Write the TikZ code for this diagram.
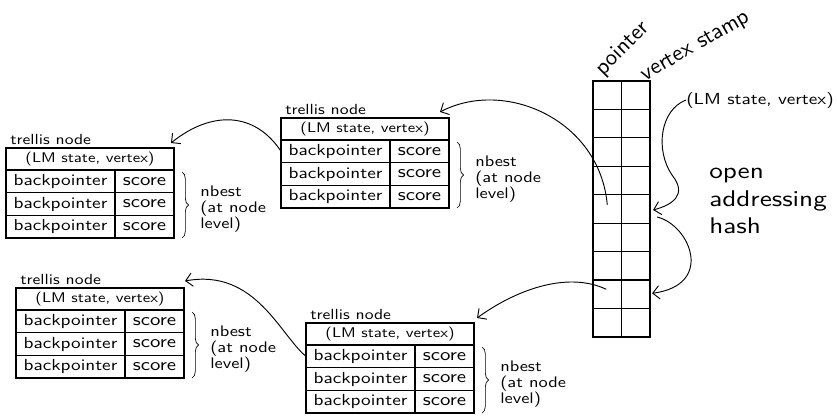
\documentclass[tikz,border=0pt]{standalone}
\usepackage{fontspec}
\newfontfamily\hand{lmsans10-regular.otf}[FakeStretch=1.2]
\newfontfamily\handplain{lmsans10-regular.otf}
\usetikzlibrary{arrows.meta,decorations.pathreplacing,calc}

% one trellis node: name, x and y of its top-left corner (px, y down)
\newcommand\trellisnode[3]{%
  \node[title, anchor=south west] (#1-t) at (#2+4,#3-3) {trellis node};
  \node[hdr] (#1-h) at (#2,#3) {(LM state, vertex)};
  \node[bpcell] (#1-b1) at (#1-h.south west) {backpointer};
  \node[sccell] (#1-s1) at (#1-b1.north east) {score};
  \node[bpcell] (#1-b2) at (#1-b1.south west) {backpointer};
  \node[sccell] (#1-s2) at (#1-b2.north east) {score};
  \node[bpcell] (#1-b3) at (#1-b2.south west) {backpointer};
  \node[sccell] (#1-s3) at (#1-b3.north east) {score};
  \draw[nbrace] ($(#1-s1.north east)+(8,2)$) -- ($(#1-s3.south east)+(8,0)$);
  \node[nbesttext] (#1-n) at ($(#1-s1.north east)+(26,16)$) {nbest\\(at node\\level)};
}

\begin{document}
\begin{tikzpicture}[x=0.75pt,y=-0.75pt,
  every node/.style={font=\hand},
  cell/.style={draw, line width=0.8pt, inner sep=0pt, outer sep=0pt, anchor=north west},
  hdr/.style={cell, minimum width=126pt, minimum height=16.5pt,
    font=\hand\fontsize{10.5}{12}\selectfont},
  bpcell/.style={cell, minimum width=81.75pt, minimum height=17pt,
    font=\hand\fontsize{12}{12}\selectfont},
  sccell/.style={cell, minimum width=44.25pt, minimum height=17pt,
    font=\hand\fontsize{13}{12}\selectfont},
  hcell/.style={inner sep=0pt, outer sep=0pt, anchor=north west,
    minimum width=21.4pt, minimum height=21.33pt},
  gridline/.style={line width=0.9pt},
  title/.style={inner sep=0pt, font=\hand\fontsize{11}{12}\selectfont},
  nbesttext/.style={inner sep=0pt, anchor=north west, align=left,
    font=\hand\fontsize{11.5}{12}\selectfont},
  nbrace/.style={line width=0.5pt, decorate, decoration={brace, amplitude=5pt}},
  conn/.style={line width=0.7pt, -{Straight Barb[length=5pt, width=10pt]}},
  coltitle/.style={inner sep=0pt, font=\handplain\fontsize{17}{17}\selectfont}
]
\useasboundingbox (0,0) rectangle (837,419);

% trellis nodes
\trellisnode{t1}{6}{148}
\trellisnode{t2}{281}{118}
\trellisnode{t3}{16}{288}
\trellisnode{t4}{306}{323}

% open addressing hash table: pointer column and vertex stamp column
\foreach \r in {1,...,9} {
  \node[hcell] (p\r) at (593,{81+(\r-1)*28.44}) {};
  \node[hcell] (v\r) at (p\r.north east) {};
}
\draw[gridline] (p1.north west) rectangle (v9.south east);
\draw[gridline] (p1.north east) -- (p9.south east);
\foreach \r in {1,...,8} {
  \draw[gridline] (p\r.south west) -- (v\r.south east);
}
\node[coltitle, rotate=45] (lp) at (623,49) {pointer};
\node[coltitle, rotate=30] (lv) at (696,47) {vertex stamp};
\node[inner sep=0pt, font=\hand\fontsize{12}{12}\selectfont] (lmv) at (760,100) {(LM state, vertex)};
\node[inner sep=0pt, anchor=north west, align=left,
  font=\hand\fontsize{17}{20.5}\selectfont] (oah) at (709,168) {open\\addressing\\hash};

% connectors
\draw[conn] ($(p5.center)+(0,-4)$) .. controls (600,120) and (505,78) .. ($(t2-h.north east)+(-9,-6)$);
\draw[conn] ($(p8.center)+(-1,-5)$) .. controls (570,272) and (520,287) .. ($(t4-h.north east)+(3,-5)$);
\draw[conn] (t2-b1.west) .. controls (255,112) and (212,110) .. ($(t1-h.north east)+(-3,-5)$);
\draw[conn] (t4-b1.west) .. controls (280,335) and (255,268) .. ($(t3-h.north east)+(1,-7)$);
\draw[conn] (lmv.west) .. controls (660,110) and (655,150) .. (672,175)
  .. controls (688,195) and (672,205) .. ($(v5.east)+(3,1)$);
\draw[conn] ($(v5.east)+(7,8)$) .. controls (690,225) and (715,285) .. ($(v8.east)+(2,-1)$);
\end{tikzpicture}
\end{document}
